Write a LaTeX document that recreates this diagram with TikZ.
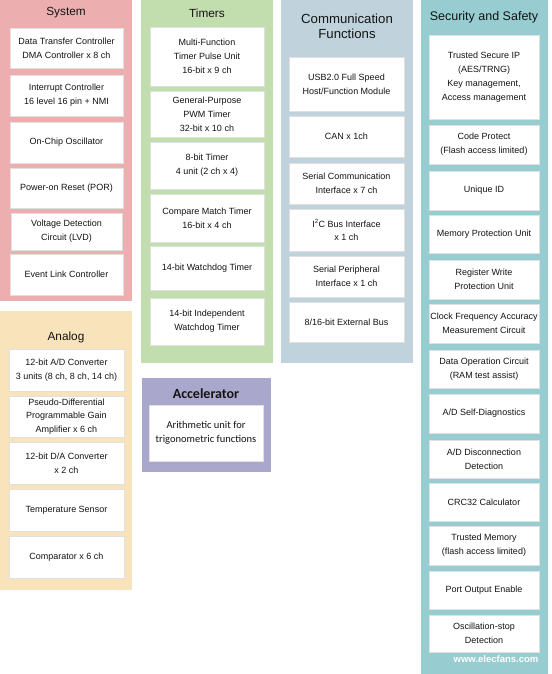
\documentclass[tikz,border=0pt]{standalone}
\usepackage{fontspec}
\setmainfont{Liberation Sans}
\newfontfamily\accfont{Carlito}
\definecolor{syspink}{RGB}{237,174,176}
\definecolor{timgreen}{RGB}{194,221,174}
\definecolor{comblue}{RGB}{192,211,221}
\definecolor{secteal}{RGB}{151,204,209}
\definecolor{anabeige}{RGB}{248,227,186}
\definecolor{acclav}{RGB}{169,168,204}
\definecolor{txt}{RGB}{20,20,20}
\tikzset{
  cell/.style={draw=black!12,line width=0.4pt,fill=white,inner sep=1pt,align=center,
    text=txt,font=\fontsize{9}{13.8}\selectfont},
  panel/.style={draw=none,inner sep=0pt},
  ptitle/.style={inner sep=0pt,align=center,text=txt,font=\fontsize{12.5}{15}\selectfont},
}
\newcommand\cellbox[6]{\pgfmathsetmacro\cw{#4-#2}\pgfmathsetmacro\chh{#5-#3}%
  \node[cell,minimum width=\cw pt,minimum height=\chh pt] (#1) at ({(#2+#4)/2},{(#3+#5)/2}) {#6};}
\newcommand\panelbox[6]{\pgfmathsetmacro\cw{#4-#2}\pgfmathsetmacro\chh{#5-#3}%
  \node[panel,fill=#6,minimum width=\cw pt,minimum height=\chh pt] (#1) at ({(#2+#4)/2},{(#3+#5)/2}) {};}
\begin{document}
\begin{tikzpicture}[x=1pt,y=-1pt]
\useasboundingbox (0,0) rectangle (551,674);
\fill[white] (0,0) rectangle (551,674);
% panels
\panelbox{psys}{0}{0}{132}{301}{syspink}
\panelbox{ptim}{141}{0}{273}{363}{timgreen}
\panelbox{pcom}{281}{0}{413}{363}{comblue}
\panelbox{psec}{421}{0}{548}{674}{secteal}
\panelbox{pana}{0}{311}{132}{590}{anabeige}
\panelbox{pacc}{142}{378}{271}{472}{acclav}
% titles
\node[ptitle,font=\fontsize{11.8}{15}\selectfont] (tsys) at (66,13) {System};
\node[ptitle,font=\fontsize{11.8}{15}\selectfont] (ttim) at (207,13) {Timers};
\node[ptitle,font=\fontsize{13.2}{15}\selectfont] (tcom) at (347,26.5) {Communication\\Functions};
\node[ptitle] (tsec) at (484,17) {Security and Safety};
\node[ptitle,font=\fontsize{11.8}{15}\selectfont] (tana) at (66,337) {Analog};
\node[ptitle,font=\accfont\bfseries\fontsize{14}{16}\selectfont] (tacc) at (206,394) {Accelerator};
% System
\cellbox{s1}{10}{28}{123}{68}{Data Transfer Controller\\DMA Controller x 8 ch}
\cellbox{s2}{10}{75}{123}{116}{Interrupt Controller\\16 level 16 pin + NMI}
\cellbox{s3}{10}{122}{123}{163}{On-Chip Oscillator}
\cellbox{s4}{10}{168}{123}{208}{Power-on Reset (POR)}
\cellbox{s5}{11}{213}{122}{250}{Voltage Detection\\Circuit (LVD)}
\cellbox{s6}{10}{254}{123}{295}{Event Link Controller}
% Timers
\cellbox{t1}{150}{27}{264}{86}{Multi-Function\\Timer Pulse Unit\\16-bit x 9 ch}
\cellbox{t2}{150}{91}{264}{137}{General-Purpose\\PWM Timer\\32-bit x 10 ch}
\cellbox{t3}{150}{142}{264}{189}{8-bit Timer\\4 unit (2 ch x 4)}
\cellbox{t4}{150}{194}{264}{242}{Compare Match Timer\\16-bit x 4 ch}
\cellbox{t5}{150}{246}{264}{290}{14-bit Watchdog Timer}
\cellbox{t6}{150}{298}{264}{345}{14-bit Independent\\Watchdog Timer}
% Communication
\cellbox{c1}{289}{57}{404}{111}{USB2.0 Full Speed\\Host/Function Module}
\cellbox{c2}{289}{116}{404}{157}{CAN x 1ch}
\cellbox{c3}{289}{163}{404}{204}{Serial Communication\\Interface x 7 ch}
\cellbox{c4}{289}{209}{404}{251}{I\textsuperscript{2}C Bus Interface\\x 1 ch}
\cellbox{c5}{289}{256}{404}{297}{Serial Peripheral\\Interface x 1 ch}
\cellbox{c6}{289}{302}{404}{342}{8/16-bit External Bus}
% Security and Safety
\cellbox{x1}{429}{35}{539}{119}{Trusted Secure IP\\(AES/TRNG)\\Key management,\\Access management}
\cellbox{x2}{429}{125}{539}{164}{Code Protect\\(Flash access limited)}
\cellbox{x3}{429}{171}{539}{210}{Unique ID}
\cellbox{x4}{429}{215}{539}{253}{Memory Protection Unit}
\cellbox{x5}{429}{260}{539}{299}{Register Write\\Protection Unit}
\cellbox{x6}{429}{304}{539}{343}{Clock Frequency Accuracy\\Measurement Circuit}
\cellbox{x7}{429}{350}{539}{388}{Data Operation Circuit\\(RAM test assist)}
\cellbox{x8}{429}{394}{539}{433}{A/D Self-Diagnostics}
\cellbox{x9}{429}{440}{539}{478}{A/D Disconnection\\Detection}
\cellbox{x10}{429}{483}{539}{521}{CRC32 Calculator}
\cellbox{x11}{429}{526}{539}{565}{Trusted Memory\\(flash access limited)}
\cellbox{x12}{429}{571}{539}{609}{Port Output Enable}
\cellbox{x13}{429}{615}{539}{652}{Oscillation-stop\\Detection}
\node[inner sep=0pt,text=white,font=\bfseries\fontsize{9.5}{11}\selectfont] (wm) at (496,659) {www.elecfans.com};
% Analog
\cellbox{a1}{9}{349}{124}{391}{12-bit A/D Converter\\3 units (8 ch, 8 ch, 14 ch)}
\cellbox{a2}{9}{396}{124}{437}{Pseudo-Differential\\Programmable Gain\\Amplifier x 6 ch}
\cellbox{a3}{9}{442}{124}{484}{12-bit D/A Converter\\x 2 ch}
\cellbox{a4}{9}{489}{124}{531}{Temperature Sensor}
\cellbox{a5}{9}{536}{124}{578}{Comparator x 6 ch}
% Accelerator
\cellbox{acc1}{149}{405}{263}{461}{\accfont\fontsize{10.5}{16}\selectfont Arithmetic unit for\\\accfont\fontsize{10.5}{16}\selectfont trigonometric functions}
\end{tikzpicture}
\end{document}
